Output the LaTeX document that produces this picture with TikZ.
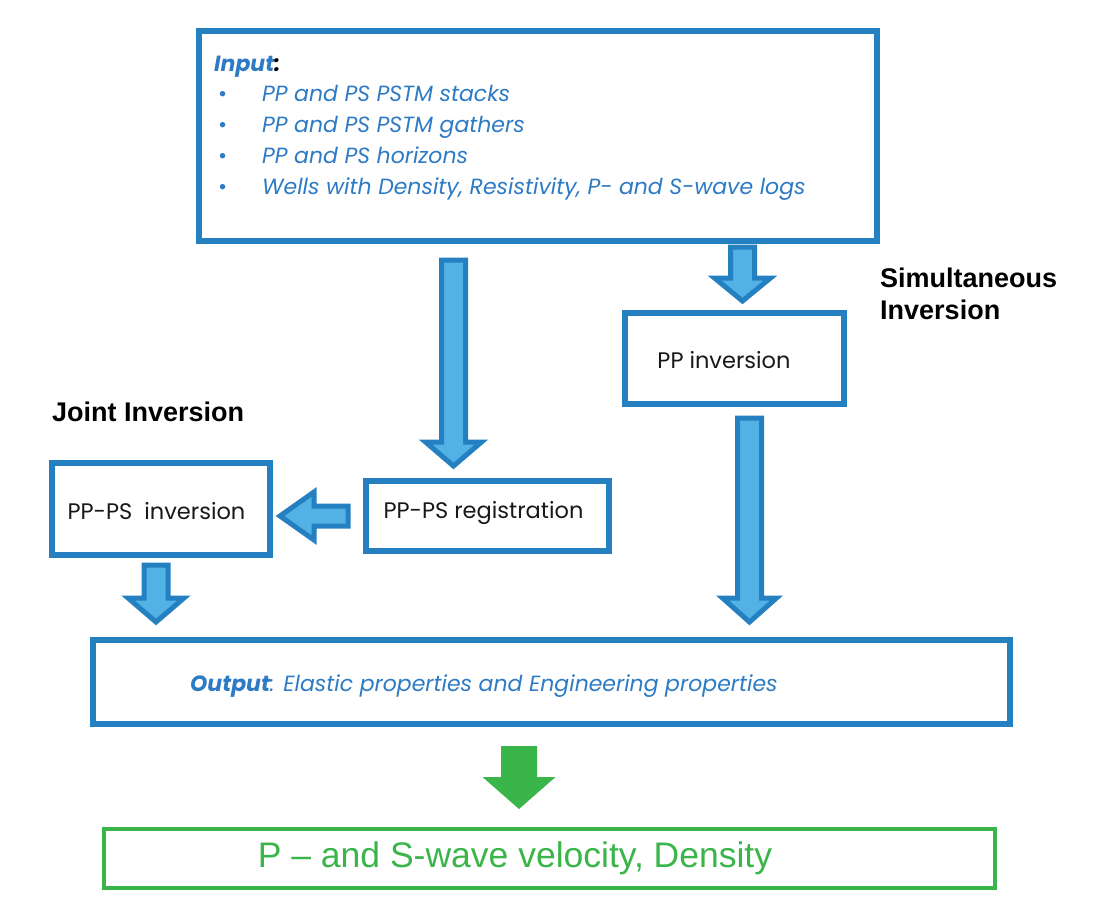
\documentclass[tikz,border=0pt]{standalone}
\usepackage{fontspec}
\setmainfont{Poppins}
\newfontfamily\arialf{Liberation Sans}
\definecolor{bordblue}{RGB}{36,128,192}
\definecolor{arrowblue}{RGB}{82,178,229}
\definecolor{txtblue}{RGB}{45,123,196}
\definecolor{grn}{RGB}{58,181,74}
\definecolor{boxtxt}{RGB}{25,25,25}
\tikzset{
  bbox/.style={draw=bordblue, line width=6pt, rectangle, inner sep=0pt},
  gbox/.style={draw=grn, line width=4pt, rectangle, inner sep=0pt},
  barrow/.style={draw=bordblue, line width=5pt, fill=arrowblue, line join=miter},
  garrow/.style={fill=grn, draw=none},
  boxlabel/.style={font=\fontsize{22.5}{26}\selectfont, text=boxtxt, inner sep=0pt},
  inlist/.style={font=\fontsize{22}{26}\selectfont\itshape, text=txtblue, inner sep=0pt, anchor=base west},
  sidelabel/.style={font=\arialf\bfseries\fontsize{27}{32}\selectfont, text=black, inner sep=0pt, anchor=base west},
  pics/bdown/.style n args={5}{code={
    \path[#5] (-#1,0) -- (#1,0) -- (#1,#3) -- (#2,#3) -- (0,#4) -- (-#2,#3) -- (-#1,#3) -- cycle;}},
  pics/bleft/.style n args={5}{code={
    \path[#5] (0,-#1) -- (0,#1) -- (-#3,#1) -- (-#3,#2) -- (-#4,0) -- (-#3,-#2) -- (-#3,-#1) -- cycle;}}
}
\begin{document}
\begin{tikzpicture}[x=1pt,y=-1pt]
\useasboundingbox[fill=white] (0,0) rectangle (1100,920);

% boxes
\node[bbox, minimum width=678pt, minimum height=210pt] (input) at (538,136) {};
\node[bbox, minimum width=219pt, minimum height=91pt] (ppinv) at (734.5,358.5) {};
\node[bbox, minimum width=243pt, minimum height=70pt] (reg) at (487.5,516) {};
\node[bbox, minimum width=218pt, minimum height=92pt] (jinv) at (161,509) {};
\node[bbox, minimum width=917pt, minimum height=84pt] (output) at (551.5,682) {};
\node[gbox, minimum width=891pt, minimum height=59pt] (final) at (549.5,858.5) {};

% input text
\node[inlist, font=\fontsize{22}{26}\selectfont\bfseries\itshape] (in0) at (214,72) {Input\textcolor{black}{:}};
\node[inlist] (in1) at (218,102) {\makebox[44pt][l]{\upshape•}PP and PS PSTM stacks};
\node[inlist] (in2) at (218,133) {\makebox[44pt][l]{\upshape•}PP and PS PSTM gathers};
\node[inlist] (in3) at (218,164) {\makebox[44pt][l]{\upshape•}PP and PS horizons};
\node[inlist] (in4) at (218,195) {\makebox[44pt][l]{\upshape•}Wells with Density, Resistivity, P- and S-wave logs};

% box texts
\node[boxlabel] (ppinv-t) at (724,360) {PP inversion};
\node[boxlabel] (reg-t) at (483.5,513) {PP-PS registration};
\node[boxlabel] (jinv-t) at (156.5,511) {PP-PS\ \ inversion};
\node[inlist, font=\fontsize{22}{26}\selectfont\itshape] (output-t) at (190,691)
  {{\bfseries Output}: Elastic properties and Engineering properties};
\node[font=\arialf\fontsize{35.5}{40}\selectfont, text=grn, inner sep=0pt] (final-t) at (515,858)
  {P – and S-wave velocity, Density};

% side labels
\node[sidelabel] (joint) at (52,421) {Joint Inversion};
\node[sidelabel] (simul1) at (880,287) {Simultaneous};
\node[sidelabel] (simul2) at (880,319) {Inversion};

% block arrows
\pic at (453.5,260) {bdown={12}{28}{182}{206}{barrow}};
\pic at (742.5,247) {bdown={12}{28}{31}{54}{barrow}};
\pic at (749.5,418) {bdown={12}{27}{180}{204}{barrow}};
\pic at (156,565) {bdown={12}{28}{33}{57}{barrow}};
\pic at (348,516) {bleft={10}{24}{34}{68}{barrow}};
\pic at (519,746) {bdown={18}{36.5}{31}{63}{garrow}};
\end{tikzpicture}
\end{document}
